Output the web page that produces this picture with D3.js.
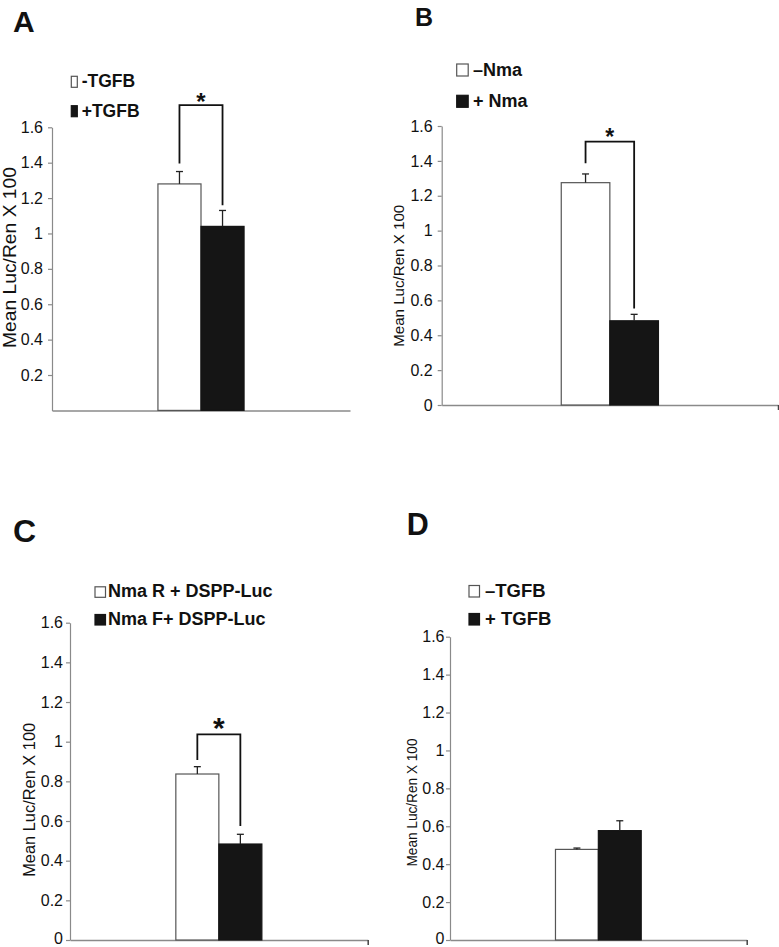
<!DOCTYPE html>
<html>
<head>
<meta charset="utf-8">
<script src="https://cdn.jsdelivr.net/npm/d3@7"></script>
<style>
  html, body { margin: 0; padding: 0; background: #fff; }
  svg { display: block; font-family: "Liberation Sans", Arial, sans-serif; }
</style>
</head>
<body>
<svg id="chart" width="779" height="947"></svg>
<script>
// ---------------- data ----------------
const panelLetters = ["A", "B", "C", "D"];
const yAxisTitle = "Mean Luc/Ren X 100";

const seriesA = ["-TGFB", "+TGFB"];
const seriesB = ["–Nma", "+ Nma"];
const seriesC = ["Nma R + DSPP-Luc", "Nma F+ DSPP-Luc"];
const seriesD = ["–TGFB", "+ TGFB"];

const meansA = [1.28, 1.04];
const errorsA = [0.07, 0.09];
const meansB = [1.275, 0.483];
const errorsB = [0.05, 0.037];
const meansC = [0.837, 0.484];
const errorsC = [0.037, 0.049];
const meansD = [0.478, 0.577];
const errorsD = [0.007, 0.052];

// significance brackets: [top, left leg end, right leg end] in data units
const bracketA = [1.725, 1.396, 1.16];
const bracketB = [1.51, 1.386, 0.554];
const bracketC = [1.037, 0.908, 0.575];
const bracketD = null;

const tickValuesA = [0.2, 0.4, 0.6, 0.8, 1, 1.2, 1.4, 1.6];
const tickLabelsA = ["0.2", "0.4", "0.6", "0.8", "1", "1.2", "1.4", "1.6"];
const tickValuesBCD = [0, 0.2, 0.4, 0.6, 0.8, 1, 1.2, 1.4, 1.6];
const tickLabelsBCD = ["0", "0.2", "0.4", "0.6", "0.8", "1", "1.2", "1.4", "1.6"];
const yMax = 1.6;

const barFills = ["#ffffff", "#151515"];

// ---------------- layout ----------------
const panels = [
  { letter: panelLetters[0], series: seriesA, means: meansA, errors: errorsA, bracket: bracketA,
    ticks: tickValuesA, labels: tickLabelsA,
    x0: 52, x1: 350, yTop: 127.3, yBot: 410.4, endTick: false, tickPad: 5,
    letterPos: [13, 31.7, 30],
    title: { x: 16, cy: 257.5, size: 18, len: 181 },
    legend: { sx: 71.3, sw: 6, sh: 11, tx: 81.7, base: [87.3, 116.7], size: 17.5 },
    star: { size: 24, dy: 5 } },
  { letter: panelLetters[1], series: seriesB, means: meansB, errors: errorsB, bracket: bracketB,
    ticks: tickValuesBCD, labels: tickLabelsBCD,
    x0: 441.7, x1: 778, yTop: 126, yBot: 405, endTick: true, tickPad: 5,
    letterPos: [415, 26, 25],
    title: { x: 403.5, cy: 275.8, size: 15, len: 142 },
    legend: { sx: 456.7, sw: 11.5, sh: 12, tx: 473, base: [76, 107.3], size: 18 },
    star: { size: 23, dy: 3 } },
  { letter: panelLetters[2], series: seriesC, means: meansC, errors: errorsC, bracket: bracketC,
    ticks: tickValuesBCD, labels: tickLabelsBCD,
    x0: 70, x1: 367.7, yTop: 622.7, yBot: 940, endTick: true, tickPad: 3,
    letterPos: [13, 541.7, 32],
    title: { x: 35, cy: 799.8, size: 16.5, len: 154 },
    legend: { sx: 95, sw: 10.5, sh: 10.5, tx: 108, base: [597.3, 625], size: 18 },
    star: { size: 30, dy: 4 } },
  { letter: panelLetters[3], series: seriesD, means: meansD, errors: errorsD, bracket: bracketD,
    ticks: tickValuesBCD, labels: tickLabelsBCD,
    x0: 450, x1: 746.7, yTop: 636.7, yBot: 940, endTick: true, tickPad: 1.5,
    letterPos: [406.7, 535, 30.5],
    title: { x: 416.5, cy: 802.5, size: 14, len: 128 },
    legend: { sx: 469, sw: 10.5, sh: 11.5, tx: 485, base: [597, 625], size: 18.5 },
    star: null }
];

const svg = d3.select("#chart");
const axisColor = "#8a8a8a";
const pageH = +svg.attr("height");

panels.forEach(p => {
  const g = svg.append("g");

  const y = d3.scaleLinear().domain([0, yMax]).range([p.yBot, p.yTop]);
  const xCat = d3.scaleBand().domain(["group"]).range([p.x0, p.x1])
    .paddingInner(0).paddingOuter(1.23);
  const xSer = d3.scaleBand().domain(p.series).range([0, xCat.bandwidth()]);
  const cx = i => xCat("group") + xSer(p.series[i]) + xSer.bandwidth() / 2;

  // y axis
  const labelMap = new Map(p.ticks.map((t, i) => [t, p.labels[i]]));
  const yAxis = d3.axisLeft(y).tickValues(p.ticks).tickFormat(d => labelMap.get(d))
    .tickSize(4).tickSizeOuter(0).tickPadding(p.tickPad);
  const ya = g.append("g").attr("transform", `translate(${p.x0},0)`).call(yAxis);
  ya.select(".domain").attr("stroke", axisColor).attr("stroke-width", 1.2);
  ya.selectAll(".tick line").attr("stroke", axisColor).attr("stroke-width", 1.2);
  ya.selectAll(".tick text").attr("fill", "#111").style("font-size", "16px")
    .style("font-family", "'Liberation Sans', Arial, sans-serif")
    .attr("dy", d => (pageH - y(d) < 10 ? "0.2em" : "0.32em"));

  // x axis
  const xAxis = d3.axisBottom(d3.scaleLinear().domain([0, 1]).range([p.x0, p.x1]))
    .tickValues(p.endTick ? [1] : []).tickFormat("").tickSize(5).tickSizeOuter(0);
  const xa = g.append("g").attr("transform", `translate(0,${p.yBot})`).call(xAxis);
  xa.select(".domain").attr("stroke", axisColor).attr("stroke-width", 1.5);
  xa.selectAll(".tick line").attr("stroke", "#444").attr("stroke-width", 1.5);

  // bars
  const rows = p.series.map((s, i) => ({ s, i, m: p.means[i], e: p.errors[i] }));
  g.selectAll("rect.bar").data(rows).join("rect")
    .attr("class", "bar")
    .attr("x", d => xCat("group") + xSer(d.s))
    .attr("width", xSer.bandwidth())
    .attr("y", d => y(d.m))
    .attr("height", d => y(0) - y(d.m))
    .attr("fill", d => barFills[d.i])
    .attr("stroke", d => d.i === 0 ? "#555" : "#151515")
    .attr("stroke-width", 1.2);

  // error bars (upper only)
  g.selectAll("line.err").data(rows).join("line")
    .attr("x1", d => cx(d.i)).attr("x2", d => cx(d.i))
    .attr("y1", d => y(d.m)).attr("y2", d => y(d.m + d.e))
    .attr("stroke", "#222").attr("stroke-width", 1.3);
  g.selectAll("line.cap").data(rows).join("line")
    .attr("x1", d => cx(d.i) - 3.5).attr("x2", d => cx(d.i) + 3.5)
    .attr("y1", d => y(d.m + d.e)).attr("y2", d => y(d.m + d.e))
    .attr("stroke", "#222").attr("stroke-width", 1.3);

  // significance bracket
  if (p.bracket) {
    const [top, l, r] = p.bracket;
    const path = d3.path();
    path.moveTo(cx(0), y(l));
    path.lineTo(cx(0), y(top));
    path.lineTo(cx(1), y(top));
    path.lineTo(cx(1), y(r));
    g.append("path").attr("d", path.toString()).attr("fill", "none")
      .attr("stroke", "#111").attr("stroke-width", 1.8);
    g.append("text").attr("x", (cx(0) + cx(1)) / 2).attr("y", y(top) + p.star.dy)
      .attr("text-anchor", "middle").attr("font-weight", "bold")
      .style("font-size", p.star.size + "px").attr("fill", "#111").text("*");
  }

  // panel letter
  g.append("text").attr("x", p.letterPos[0]).attr("y", p.letterPos[1])
    .attr("font-weight", "bold").style("font-size", p.letterPos[2] + "px")
    .attr("fill", "#111").text(p.letter);

  // y title
  g.append("text")
    .attr("transform", `translate(${p.title.x},${p.title.cy}) rotate(-90)`)
    .attr("text-anchor", "middle")
    .style("font-size", p.title.size + "px")
    .attr("textLength", p.title.len).attr("lengthAdjust", "spacingAndGlyphs")
    .attr("fill", "#111").text(yAxisTitle);

  // legend
  const L = p.legend;
  p.series.forEach((s, i) => {
    const base = L.base[i];
    g.append("rect").attr("x", L.sx).attr("y", base - L.sh)
      .attr("width", L.sw).attr("height", L.sh)
      .attr("fill", barFills[i]).attr("stroke", i === 0 ? "#555" : "#151515").attr("stroke-width", 1.2);
    g.append("text").attr("x", L.tx).attr("y", base)
      .attr("font-weight", "bold").style("font-size", L.size + "px")
      .attr("fill", "#111").text(s);
  });
});
</script>
</body>
</html>
